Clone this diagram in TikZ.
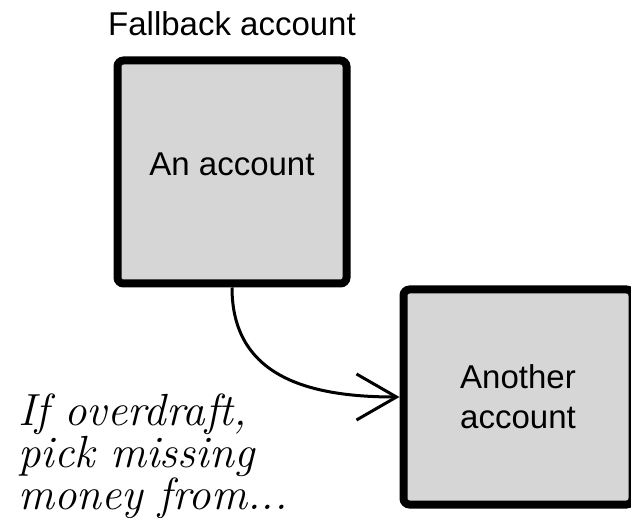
\documentclass[tikz,border=0pt]{standalone}
\usepackage{fontspec}
\setsansfont{Liberation Sans}
\usetikzlibrary{arrows.meta}
\usetikzlibrary{positioning}
\definecolor{boxgray}{RGB}{214,214,214}

\begin{document}
\begin{tikzpicture}[x=1pt,y=1pt,
  acctbox/.style={draw,line width=8pt,rounded corners=6pt,fill=boxgray,minimum width=229pt,minimum height=223pt,align=center,font=\sffamily\fontsize{33}{40}\selectfont},
  flow/.style={line width=3pt,-{Straight Barb[length=40pt,width=46pt]}}]
  \useasboundingbox (0,0) rectangle (631,517);
  \node[acctbox,text depth=16pt] (acct) at (232,345) {An account};
  \node[above=20pt of acct,inner sep=0pt,font=\sffamily\fontsize{33}{40}\selectfont] (fallback) {Fallback account};
  \node[acctbox,minimum height=215pt] (other) at (518,120) {Another\\account};
  \draw[flow] (acct.south) to[out=-90,in=180,looseness=1.15] (other.west);
  \node[anchor=north west,inner sep=0pt,align=left,font=\itshape\fontsize{45}{36}\selectfont] (note) at (18,123) {If overdraft,\\pick missing\\money from...};
\end{tikzpicture}
\end{document}
